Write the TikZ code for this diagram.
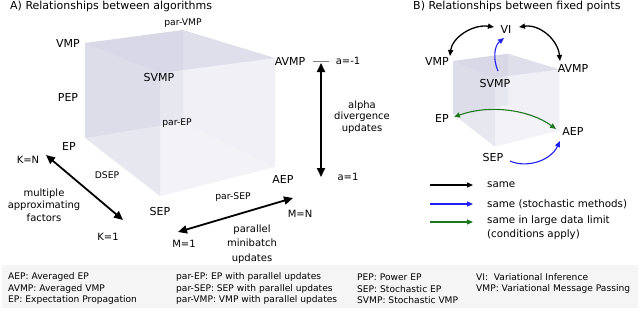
\documentclass[tikz,border=0pt]{standalone}
\usepackage{fontspec}
\setmainfont{DejaVu Sans}
\usetikzlibrary{arrows.meta}
\definecolor{lav}{RGB}{100,100,160}
\definecolor{bblue}{RGB}{30,30,245}
\definecolor{bgreen}{RGB}{30,120,30}
\definecolor{boxgray}{RGB}{245,245,245}
\newcommand\fsz[2]{\fontsize{#1}{#2}\selectfont}
\newcommand\cubefaces{%
  \fill[lav, fill opacity=0.11] (0,0) -- (98,-13) -- (98,79) -- (0,95) -- cycle;
  \fill[lav, fill opacity=0.05] (98,-13) -- (190,15) -- (190,124) -- (98,79) -- cycle;
  \fill[lav, fill opacity=0.035] (0,95) -- (98,79) -- (190,124) -- (75,153) -- cycle;
  \fill[lav, fill opacity=0.12] (0,0) -- (75,30) -- (75,153) -- (0,95) -- cycle;
  \fill[lav, fill opacity=0.05] (75,30) -- (190,15) -- (190,124) -- (75,153) -- cycle;
  \fill[lav, fill opacity=0.16] (0,0) -- (98,-13) -- (190,15) -- (75,30) -- cycle;
}
\begin{document}
\begin{tikzpicture}[x=1pt,y=-1pt,
  lab/.style={font=\fsz{11}{13}, inner sep=0pt},
  slab/.style={font=\fsz{9.2}{11}, inner sep=0pt},
  ann/.style={font=\fsz{10}{11.5}, inner sep=0pt},
  ttl/.style={font=\fsz{11}{13}, inner sep=0pt, anchor=west},
  bleg/.style={font=\fsz{10.3}{14}, inner sep=0pt, anchor=west, align=left},
  leg/.style={font=\fsz{9.1}{11}, inner sep=0pt, anchor=west},
  bigarrow/.style={line width=1.8pt, {Triangle[length=9pt,width=8pt]}-{Triangle[length=9pt,width=8pt]}},
  arcblack/.style={line width=1.3pt, black},
  tipB/.style={-{Triangle[length=6pt,width=5pt]}},
  tipBB/.style={{Triangle[length=6pt,width=5pt]}-{Triangle[length=6pt,width=5pt]}}
]
\useasboundingbox (0,0) rectangle (640,311);

% ---------- Panel A ----------
\node[ttl] (titleA) at (10,6) {A) Relationships between algorithms};
\begin{scope}[shift={(85,43)}]
  \cubefaces
\end{scope}

\node[lab] (VMP) at (68,43) {VMP};
\node[lab] (PEP) at (68,97) {PEP};
\node[lab] (EP) at (69,146) {EP};
\node[lab] (SVMP) at (159,77) {SVMP};
\node[slab] (parVMP) at (183,23) {par-VMP};
\node[slab] (parEP) at (177,123) {par-EP};
\node[lab] (AVMP) at (290,61) {AVMP};
\node[ann] (am1) at (348,61) {a=-1};
\node[ann] (a1) at (348,177) {a=1};
\node[ann, align=center] (alpha) at (362,117) {alpha\\divergence\\updates};
\node[lab] (AEP) at (283,179) {AEP};
\node[slab] (DSEP) at (107,175) {DSEP};
\node[lab] (SEP) at (160,211) {SEP};
\node[slab] (parSEP) at (233,197) {par-SEP};
\node[ann] (MN) at (300,214) {M=N};
\node[ann] (M1) at (184,244) {M=1};
\node[ann, align=center, font=\fsz{10}{14.5}] (par) at (252,244) {parallel\\minibatch\\updates};
\node[ann] (KN) at (28,160) {K=N};
\node[ann] (K1) at (108,237) {K=1};
\node[ann, align=center, font=\fsz{10}{12.5}] (mult) at (44,205) {multiple\\approximating\\factors};

\coordinate (aTop) at (321,63);
\coordinate (aBot) at (321,177);
\coordinate (kTop) at (46,155);
\coordinate (kBot) at (123,220);
\coordinate (mLeft) at (178,232);
\coordinate (mRight) at (293,198);
\coordinate (tickL) at (313,61);
\coordinate (tickR) at (329,61);
\draw[bigarrow] (aTop) -- (aBot);
\draw[bigarrow] (kTop) -- (kBot);
\draw[bigarrow] (mLeft) -- (mRight);
\draw[gray, line width=0.8pt] (tickL) -- (tickR);

% ---------- Panel B ----------
\node[ttl] (titleB) at (413,6) {B) Relationships between fixed points};
\begin{scope}[shift={(453,61)}, scale=0.56]
  \cubefaces
\end{scope}
\node[lab] (bVI) at (506,29) {VI};
\node[lab] (bVMP) at (437,61) {VMP};
\node[lab] (bAVMP) at (573,68) {AVMP};
\node[lab] (bSVMP) at (495,83) {SVMP};
\node[lab] (bEP) at (442,118) {EP};
\node[lab] (bAEP) at (573,131) {AEP};
\node[lab] (bSEP) at (493,157) {SEP};

\coordinate (vmpT) at (450,56);
\coordinate (viL) at (494,27);
\coordinate (viR) at (519,27);
\coordinate (avmpT) at (560,61);
\coordinate (svmpT) at (498,71);
\coordinate (viB) at (504,38);
\coordinate (epR) at (454,117);
\coordinate (aepL) at (556,129);
\coordinate (sepR) at (510,161);
\coordinate (aepB) at (560,141);

\draw[arcblack, tipBB] (vmpT) .. controls (452,38) and (472,24) .. (viL);
\draw[arcblack, tipBB] (viR) .. controls (540,24) and (558,40) .. (avmpT);
\draw[bblue, line width=1.1pt, tipB] (svmpT) .. controls (493,60) and (494,46) .. (viB);
\draw[bgreen, line width=1.1pt, tipBB] (epR) .. controls (490,104) and (530,110) .. (aepL);
\draw[bblue, line width=1.1pt, tipB] (sepR) .. controls (525,168) and (550,162) .. (aepB);

% legend B
\coordinate (l1a) at (430,185); \coordinate (l1b) at (473,185);
\coordinate (l2a) at (430,204); \coordinate (l2b) at (473,204);
\coordinate (l3a) at (430,222); \coordinate (l3b) at (473,222);
\draw[black, line width=1.1pt, tipB] (l1a) -- (l1b);
\draw[bblue, line width=1.1pt, tipB] (l2a) -- (l2b);
\draw[bgreen, line width=1.1pt, tipB] (l3a) -- (l3b);
\node[bleg] (lt1) at (487,185) {same};
\node[bleg] (lt2) at (487,204) {same (stochastic methods)};
\node[bleg, anchor=north west] (lt3) at (487,215) {same in large data limit\\(conditions apply)};

% ---------- Bottom glossary ----------
\fill[boxgray] (2,265) rectangle (638,308);
\node[leg] (g11) at (8,277) {AEP: Averaged EP};
\node[leg] (g12) at (8,289) {AVMP: Averaged VMP};
\node[leg] (g13) at (8,300) {EP: Expectation Propagation};
\node[leg] (g21) at (176,277) {par-EP: EP with parallel updates};
\node[leg] (g22) at (176,289) {par-SEP: SEP with parallel updates};
\node[leg] (g23) at (176,300) {par-VMP: VMP with parallel updates};
\node[leg] (g31) at (357,277) {PEP: Power EP};
\node[leg] (g32) at (357,289) {SEP: Stochastic EP};
\node[leg] (g33) at (357,300) {SVMP: Stochastic VMP};
\node[leg] (g41) at (476,277) {VI:\ \ Variational Inference};
\node[leg] (g42) at (476,289) {VMP: Variational Message Passing};
\end{tikzpicture}
\end{document}
